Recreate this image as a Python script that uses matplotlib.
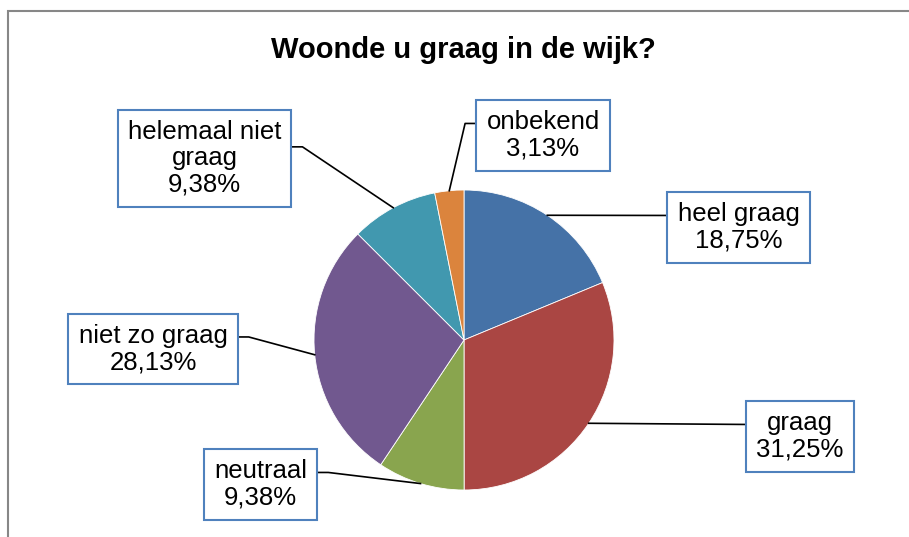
import numpy as np
import matplotlib
matplotlib.use("Agg")
import matplotlib.pyplot as plt
from matplotlib.patches import Rectangle

plt.rcParams['font.family'] = ['Liberation Sans', 'DejaVu Sans']

title = "Woonde u graag in de wijk?"
categories = ["heel graag", "graag", "neutraal", "niet zo graag", "helemaal niet\ngraag", "onbekend"]
percentages = [18.75, 31.25, 9.38, 28.13, 9.38, 3.13]
colors = ["#4572A7", "#AA4643", "#89A54E", "#71588F", "#4198AF", "#DB843D"]

W, H = 909, 537
fig = plt.figure(figsize=(W / 100, H / 100), dpi=100)
ax = fig.add_axes([0, 0, 1, 1])
ax.set_xlim(0, W)
ax.set_ylim(0, H)
ax.axis('off')

def py(y):  # pixel-from-top to data y
    return H - y

# chart area frame
fig.patches.append(Rectangle((8, -20), W + 20, H - 11 + 20, transform=None,
                             fill=False, edgecolor='#878787', linewidth=1.5))

cx, cy, r = 464, py(340), 150
wedges, _ = ax.pie(percentages, colors=colors, startangle=90, counterclock=False,
                   center=(cx, cy), radius=r,
                   wedgeprops=dict(edgecolor='white', linewidth=0.6))
ax.set_xlim(0, W)
ax.set_ylim(0, H)
ax.set_aspect('equal', adjustable='box')

ax.text(463, py(58), title, ha='center', va='baseline', fontsize=21, fontweight='bold')

# label box centres (layout, pixels from top-left)
label_pos = [(738.5, 227.5), (800, 436.5), (260.5, 484.5), (153, 349), (204.5, 158.5), (543, 135.5)]

texts = []
for cat, pct, (lx, ly) in zip(categories, percentages, label_pos):
    s = f"{cat}\n{pct:.2f}%".replace('.', ',')
    t = ax.text(lx, py(ly), s, ha='center', va='center', multialignment='center',
                fontsize=18.5, linespacing=1.12,
                bbox=dict(boxstyle='square,pad=0.4', facecolor='white',
                          edgecolor='#4F81BD', linewidth=1.5))
    texts.append(t)

fig.canvas.draw()
renderer = fig.canvas.get_renderer()
inv = ax.transData.inverted()

cum = np.cumsum([0] + percentages[:-1])
total = sum(percentages)
for t, cat, start, pct in zip(texts, categories, cum, percentages):
    mid = np.deg2rad(90 - (start + pct / 2) / total * 360)
    px_, py_ = cx + r * np.cos(mid), cy + r * np.sin(mid)
    bb = t.get_bbox_patch().get_window_extent(renderer)
    (x0, y0), (x1, y1) = inv.transform([(bb.x0, bb.y0), (bb.x1, bb.y1)])
    frac = 0.38 if '\n' in cat else 0.33
    ay = y1 - frac * (y1 - y0)
    if px_ > (x0 + x1) / 2:
        ex, kx = x1, x1 + 11
    else:
        ex, kx = x0, x0 - 11
    if abs(ay - py_) < 4:
        ax.plot([ex, px_], [ay, py_], color='black', lw=1.2, zorder=1)
    else:
        ax.plot([ex, kx, px_], [ay, ay, py_], color='black', lw=1.2, zorder=1)

fig.savefig("out.png", dpi=100, facecolor='white')
